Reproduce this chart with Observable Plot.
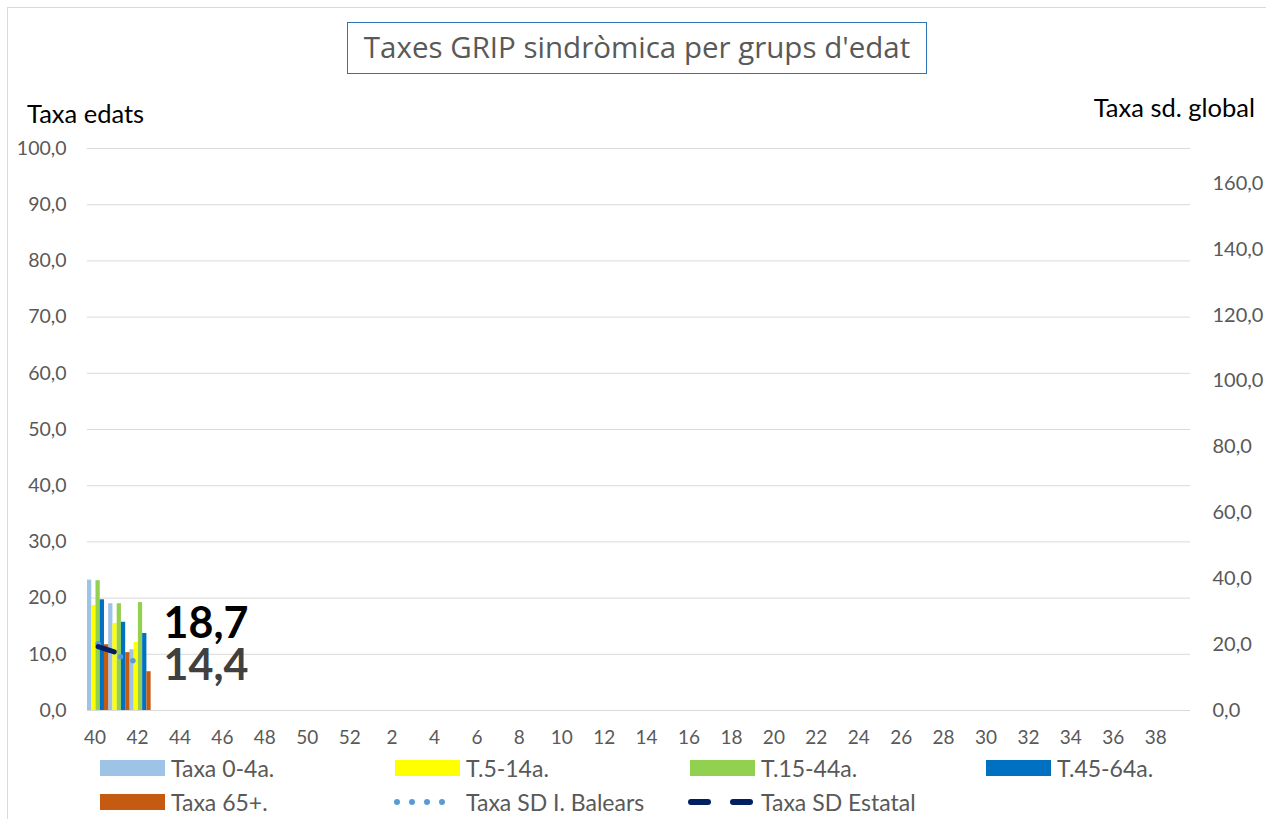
<!DOCTYPE html>
<html><head><meta charset="utf-8">
<script src="https://cdn.jsdelivr.net/npm/d3@7"></script>
<script src="https://cdn.jsdelivr.net/npm/@observablehq/plot@0.6"></script>
<style>
body{margin:0;background:#fff;}
#wrap{position:relative;width:1266px;height:819px;overflow:hidden;font-family:Lato,"Open Sans",sans-serif;background:#fff;}
#frame{position:absolute;left:7px;top:7px;width:1300px;height:900px;border:1px solid #d9d9d9;}
#title{position:absolute;left:347px;top:22px;width:580px;height:52px;border:1.5px solid #2E75B6;box-sizing:border-box;font-family:"Open Sans",sans-serif;font-size:29.5px;color:#595959;text-align:center;line-height:48px;white-space:nowrap;}
.axt{position:absolute;font-size:25.5px;color:#000;white-space:nowrap;}
#chart{position:absolute;left:0;top:0;}
.lg{position:absolute;font-size:23px;color:#595959;white-space:nowrap;line-height:22px;}
.sw{position:absolute;}
</style></head>
<body>
<div id="wrap">
  <div id="frame"></div>
  <div id="chart"></div>
  <div id="title">Taxes GRIP sindròmica per grups d'edat</div>
  <div class="axt" style="left:27px;top:98px;">Taxa edats</div>
  <div class="axt" style="right:11px;top:92px;">Taxa sd. global</div>
  <div id="legend"></div>
</div>
<script>
// ---- data ----
const weeks = [40,41,42,43,44,45,46,47,48,49,50,51,52,1,2,3,4,5,6,7,8,9,10,11,12,13,14,15,16,17,18,19,20,21,22,23,24,25,26,27,28,29,30,31,32,33,34,35,36,37,38,39];
const xTickWeeks = [40,42,44,46,48,50,52,2,4,6,8,10,12,14,16,18,20,22,24,26,28,30,32,34,36,38];
const ageSeries = ["Taxa 0-4a.","T.5-14a.","T.15-44a.","T.45-64a.","Taxa 65+."];
const ageColors = ["#9DC3E6","#FFFF00","#92D050","#0070C0","#C55A11"];
const taxa0_4   = [23.2, 19.0, 10.8];
const taxa5_14  = [18.7, 15.5, 12.1];
const taxa15_44 = [23.1, 19.0, 19.2];
const taxa45_64 = [19.7, 15.7, 13.7];
const taxa65    = [11.7, 10.3, 6.9];
const sdBalears = [20.3, 16.4, 14.4];
const sdEstatal = [19.4, 17.3, 18.7];
const leftTicks = [0,10,20,30,40,50,60,70,80,90,100];
const rightTicks = [0,20,40,60,80,100,120,140,160];
const rightMax = 170.6;
const leftMax = 100;

// ---- derived ----
const k = leftMax / rightMax;
const ageValues = [taxa0_4, taxa5_14, taxa15_44, taxa45_64, taxa65];
const barData = [];
ageValues.forEach((arr, j) => arr.forEach((v, i) => barData.push({wi: i, j, s: ageSeries[j], v})));
const balData = sdBalears.map((v, i) => ({wi: i, v}));
const estData = sdEstatal.map((v, i) => ({wi: i, v}));
const fmt = v => (Math.round(v * 10) / 10).toFixed(1).replace(".", ",");
const nB = ageSeries.length;

const plot = Plot.plot({
  width: 1266, height: 760,
  marginTop: 148, marginBottom: 50, marginLeft: 87, marginRight: 76,
  style: {fontFamily: "Lato, 'Open Sans', sans-serif", background: "transparent", overflow: "visible"},
  x: {type: "linear", domain: [0, weeks.length], axis: null},
  y: {domain: [0, leftMax], axis: null},
  color: {domain: ageSeries, range: ageColors},
  marks: [
    Plot.gridY(leftTicks, {stroke: "#d9d9d9", strokeOpacity: 1, strokeWidth: 1}),
    Plot.rectY(barData, {x1: d => d.wi + d.j / nB, x2: d => d.wi + (d.j + 1) / nB, y: "v", fill: "s", inset: 0}),
    Plot.line(balData, {x: d => d.wi + 0.5, y: d => d.v * k, stroke: "#5B9BD5", strokeWidth: 5.5, strokeDasharray: "0,13", strokeLinecap: "round"}),
    Plot.line(estData, {x: d => d.wi + 0.5, y: d => d.v * k, stroke: "#002060", strokeWidth: 5, strokeDasharray: "17,30", strokeLinecap: "round"}),
    Plot.text(estData.slice(-1), {x: d => d.wi + 0.5, y: d => d.v * k, text: d => fmt(d.v), dx: 23, dy: -25, textAnchor: "start", fontSize: 43, fontWeight: "bold", fill: "#000"}),
    Plot.text(balData.slice(-1), {x: d => d.wi + 0.5, y: d => d.v * k, text: d => fmt(d.v), dx: 23, dy: 3, textAnchor: "start", fontSize: 43, fontWeight: "bold", fill: "#404040"}),
    Plot.axisY({ticks: leftTicks, tickSize: 0, tickPadding: 21, tickFormat: fmt, fontSize: 19.5, fill: "#595959", label: null}),
    Plot.axisY({anchor: "right", ticks: rightTicks.map(v => v * k), tickSize: 0, tickPadding: 22, tickFormat: d => fmt(d / k), fontSize: 20, fill: "#595959", label: null}),
    Plot.axisX({ticks: xTickWeeks.map(w => weeks.indexOf(w) + 0.5), tickSize: 0, tickPadding: 20, tickFormat: d => String(weeks[Math.round(d - 0.5)]), fontSize: 19, fill: "#595959", label: null, dx: -3})
  ]
});
document.getElementById("chart").appendChild(plot);

// ---- legend ----
const legendItems = [
  {name: ageSeries[0], type: "bar", color: ageColors[0], x: 100, y: 768},
  {name: ageSeries[1], type: "bar", color: ageColors[1], x: 395, y: 768},
  {name: ageSeries[2], type: "bar", color: ageColors[2], x: 690, y: 768},
  {name: ageSeries[3], type: "bar", color: ageColors[3], x: 986, y: 768},
  {name: ageSeries[4], type: "bar", color: ageColors[4], x: 100, y: 802},
  {name: "Taxa SD I. Balears", type: "dot", color: "#5B9BD5", x: 393, y: 802},
  {name: "Taxa SD Estatal", type: "dash", color: "#002060", x: 688, y: 802}
];
const lg = document.getElementById("legend");
legendItems.forEach(it => {
  const sw = document.createElementNS("http://www.w3.org/2000/svg", "svg");
  sw.setAttribute("width", 68); sw.setAttribute("height", 20);
  sw.setAttribute("class", "sw");
  sw.style.left = it.x + "px"; sw.style.top = (it.y - 10) + "px";
  if (it.type === "bar") {
    sw.innerHTML = `<rect x="0" y="2" width="65" height="16" fill="${it.color}"/>`;
  } else if (it.type === "dot") {
    sw.innerHTML = `<line x1="4" y1="10" x2="64" y2="10" stroke="${it.color}" stroke-width="6" stroke-linecap="round" stroke-dasharray="0,15"/>`;
  } else {
    sw.innerHTML = `<line x1="3" y1="10" x2="65" y2="10" stroke="${it.color}" stroke-width="6" stroke-linecap="round" stroke-dasharray="17,25"/>`;
  }
  lg.appendChild(sw);
  const t = document.createElement("div");
  t.className = "lg"; t.textContent = it.name;
  t.style.left = (it.x + (it.type === "bar" ? 71 : 73)) + "px"; t.style.top = (it.y - 11) + "px";
  lg.appendChild(t);
});
</script>
</body></html>
